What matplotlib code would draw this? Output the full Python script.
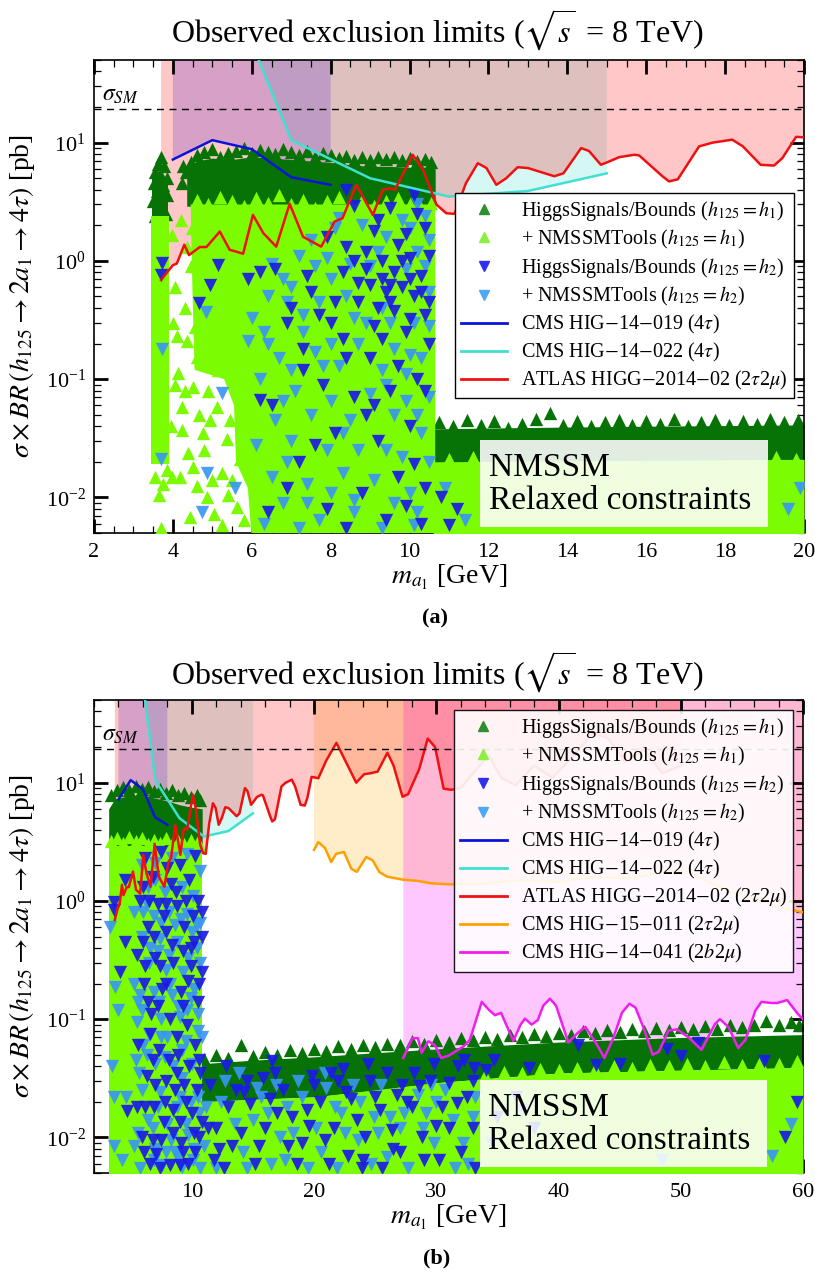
import matplotlib
matplotlib.use('Agg')
import matplotlib.pyplot as plt
from matplotlib.lines import Line2D
from matplotlib.patches import Rectangle, Polygon
from matplotlib.ticker import MultipleLocator, LogLocator, NullFormatter

plt.rcParams['font.family'] = ['Liberation Serif', 'DejaVu Serif']
plt.rcParams['mathtext.fontset'] = 'stix'

# ------------------------------------------------------------------ data
SIGMA_SM = 19.3
YMIN, YMAX = 0.005, 50.0

# ATLAS HIGG-2014-02 (2tau2mu)
atlas_x = [3.7, 4.0, 4.1, 4.29, 4.41, 4.68, 4.85, 5.19, 5.44, 5.6, 5.78, 6.03, 6.29, 6.62, 6.96,
           7.3, 7.76, 8.1, 8.3, 8.65, 9.07, 9.32, 9.5, 9.63, 10.08, 10.34, 10.68, 10.93, 11.14,
           11.43, 11.73, 11.95, 12.2, 12.45, 12.74, 13.0, 13.67, 13.9, 14.35, 14.55, 14.85, 15.0,
           15.32, 15.7, 15.82, 16.41, 16.58, 16.8, 17.34, 17.68, 18.18, 18.45, 18.9, 19.24, 19.45,
           19.8, 20.35, 21.0, 21.83, 22.6, 23.45, 24.1, 24.6, 25.2, 26.0, 26.5, 27.24, 27.7, 28.6,
           29.3, 29.9, 30.6, 31.2, 32.0, 33.0, 34.3, 35.3, 36.5, 38.0, 39.5, 41.0, 42.8, 44.0,
           45.5, 47.0, 48.5, 50.0]
atlas_y = [0.69, 0.92, 0.95, 1.37, 1.12, 1.31, 1.31, 1.77, 1.24, 1.2, 1.15, 2.45, 1.72, 1.32, 3.04,
           1.6, 1.32, 2.15, 2.3, 4.4, 2.45, 4.0, 4.1, 4.0, 7.9, 5.9, 3.0, 2.53, 2.5,
           4.55, 6.7, 6.1, 4.4, 5.0, 6.2, 6.1, 5.2, 5.5, 9.0, 8.5, 6.5, 6.8,
           7.55, 7.9, 7.8, 5.2, 4.7, 4.9, 9.3, 10.0, 10.6, 9.3, 6.5, 6.4, 7.4,
           11.2, 10.9, 15.4, 21.7, 15.0, 10.0, 11.8, 12.0, 12.4, 17.9, 14.0, 7.6, 8.0, 13.0,
           23.6, 20.0, 8.9, 8.7, 9.0, 12.0, 17.0, 11.0, 9.5, 14.0, 11.0, 16.0, 26.0, 24.0,
           15.0, 19.0, 12.0, 14.0]

# CMS HIG-14-019 (4tau)
cms019_x = [4.0, 5.0, 6.0, 7.0, 8.0]
cms019_y = [7.2, 10.5, 8.8, 5.1, 4.4]

# CMS HIG-14-022 (4tau)
cms022_x = [6.0, 7.0, 9.0, 11.0, 13.0, 15.0]
cms022_y = [70.0, 10.5, 5.0, 3.5, 3.9, 5.5]

# CMS HIG-15-011 (2tau2mu)
cms15011_x = [20.0, 20.35, 20.9, 21.4, 21.8, 22.45, 23.05, 23.5, 24.27, 24.8, 25.35, 26.0, 27.3,
              28.4, 29.55, 31.0, 34.0, 37.0, 40.0, 43.0, 46.0, 49.0, 50.6, 53.9, 57.9, 60.0]
cms15011_y = [2.7, 3.14, 2.8, 2.13, 2.5, 2.59, 1.87, 1.76, 2.35, 2.2, 1.75, 1.6, 1.51,
              1.48, 1.41, 1.38, 1.4, 1.5, 1.45, 1.6, 1.55, 1.8, 1.75, 1.22, 0.89, 0.8]

# CMS HIG-14-041 (2b2mu)
cms14041_x = [27.3, 28.05, 28.5, 28.8, 29.35, 29.9, 30.4, 31.0, 32.25, 32.75, 33.72, 34.3, 34.8,
              35.3, 36.3, 36.9, 37.25, 37.8, 38.3, 38.75, 39.3, 39.8, 40.8, 41.6, 42.2, 43.1,
              43.75, 44.45, 45.2, 45.8, 46.3, 47.0, 47.7, 48.2, 49.0, 49.7, 50.65, 51.7, 52.8,
              53.2, 53.9, 54.7, 55.3, 56.1, 56.6, 57.4, 57.9, 58.7, 59.6, 60.0]
cms14041_y = [0.047, 0.069, 0.069, 0.052, 0.065, 0.060, 0.047, 0.049, 0.059, 0.067, 0.140, 0.120,
              0.108, 0.113, 0.0655, 0.09, 0.101, 0.09, 0.098, 0.13, 0.149, 0.13, 0.0635, 0.077,
              0.086, 0.062, 0.047, 0.068, 0.114, 0.135, 0.125, 0.082, 0.050, 0.053, 0.080, 0.082,
              0.070, 0.055, 0.091, 0.100, 0.086, 0.057, 0.067, 0.118, 0.140, 0.137, 0.137, 0.145,
              0.11, 0.10]

# ---------------- scan points, panel (a) --------------------------------
a_h1hs_mass_x = [4.35, 4.6, 5.0, 5.5, 6.0, 6.5, 7.0, 7.5, 8.0, 8.5, 9.0, 9.5, 10.0, 10.4, 10.65]
a_h1hs_mass_top = [6.0, 7.0, 7.4, 7.2, 7.6, 7.4, 7.2, 7.0, 6.8, 6.5, 6.3, 6.3, 6.2, 6.2, 6.0]
a_h1hs_mass_bot = [2.9] * 15
a_h1hs_col_x = [3.47, 3.88]
a_h1hs_col_top = [5.0, 5.0]
a_h1hs_col_bot = [2.2, 2.2]
a_h1hs_band_x = [10.62, 13.0, 16.0, 20.0]
a_h1hs_band_top = [0.038, 0.039, 0.040, 0.041]
a_h1hs_band_bot = [0.019, 0.019, 0.020, 0.020]
a_h1hs_pts = [(3.70, 7.6), (3.62, 6.6), (3.78, 6.3), (3.55, 5.6), (3.68, 5.4), (3.84, 5.0),
              (3.52, 4.6), (3.75, 4.4), (3.60, 3.9), (3.86, 3.6), (3.50, 3.2), (3.70, 2.9),
              (3.82, 2.5), (3.55, 2.4), (4.26, 6.3), (4.33, 5.6), (4.22, 4.6),
              (4.45, 6.8), (4.6, 7.9), (4.8, 8.4), (5.0, 8.8), (5.2, 7.6), (5.4, 8.1),
              (5.6, 8.5), (5.8, 9.0), (6.0, 8.2), (6.2, 8.7), (6.4, 8.4), (6.6, 8.0),
              (6.8, 8.8), (7.0, 8.3), (7.2, 7.8), (7.4, 8.5), (7.6, 7.6), (7.8, 8.1),
              (8.0, 7.8), (8.2, 7.4), (8.4, 7.7), (8.6, 7.2), (8.8, 7.6), (9.0, 7.1),
              (9.2, 7.5), (9.4, 7.3), (9.6, 7.6), (9.8, 7.1), (10.0, 7.4), (10.2, 7.0),
              (10.4, 7.3), (10.55, 6.8),
              (10.75, 0.043), (11.1, 0.040), (11.45, 0.045), (11.8, 0.041), (12.15, 0.044),
              (12.5, 0.039), (12.85, 0.042), (13.2, 0.046), (13.55, 0.052), (13.9, 0.041),
              (14.25, 0.044), (14.6, 0.040), (14.95, 0.043), (15.3, 0.045), (15.65, 0.041),
              (16.0, 0.044), (16.35, 0.042), (16.7, 0.046), (17.05, 0.040), (17.4, 0.043),
              (17.75, 0.045), (18.1, 0.041), (18.45, 0.044), (18.8, 0.042), (19.15, 0.046),
              (19.5, 0.043), (19.85, 0.045)]

a_h1nt_col_x = [3.45, 3.9]
a_h1nt_col_top = [2.4, 2.4]
a_h1nt_col_bot = [0.019, 0.019]
a_h1nt_main_poly = [(4.45, 3.0), (10.65, 3.0), (10.65, 0.0045), (6.0, 0.0045), (5.9, 0.012),
                    (5.6, 0.02), (5.55, 0.06), (5.3, 0.1), (4.55, 0.12), (4.5, 0.5)]
a_h1nt_band_x = [10.6, 20.0]
a_h1nt_band_top = [0.020, 0.021]
a_h1nt_pts = [(3.97, 1.66), (4.48, 1.9), (4.2, 2.2), (4.35, 1.3), (4.05, 0.6), (4.10, 0.23),
              (4.14, 0.112), (4.22, 0.058), (4.24, 0.0375), (4.18, 0.015), (3.98, 0.015),
              (4.39, 0.0236), (4.77, 0.035), (4.86, 0.0101), (4.52, 0.086), (4.6, 0.155),
              (4.94, 0.178), (5.14, 0.12), (4.57, 0.277), (5.11, 0.058), (5.36, 0.031),
              (5.70, 0.021), (5.24, 0.016), (5.03, 0.0073), (5.62, 0.0083), (4.43, 0.0068),
              (3.71, 0.0055), (4.95, 0.045), (5.45, 0.045), (4.65, 0.05), (4.3, 0.08),
              (4.0, 0.3), (4.3, 0.4), (4.8, 0.025), (5.0, 0.014), (5.4, 0.0105), (5.8, 0.0065),
              (5.25, 0.0058), (4.62, 0.0125), (5.5, 0.014), (4.9, 0.08), (4.45, 0.9),
              (4.5, 0.018), (3.95, 0.04), (4.05, 0.09), (3.55, 0.015), (3.75, 0.013),
              (3.65, 0.0105), (3.85, 0.017), (4.35, 0.21),
              (4.6, 3.3), (4.9, 3.0), (5.2, 3.5), (5.5, 3.2), (5.8, 2.9), (6.1, 3.4),
              (6.4, 3.1), (6.7, 3.6), (7.0, 3.0), (7.3, 3.3), (7.6, 2.8), (7.9, 3.2),
              (8.2, 3.5), (8.5, 3.0), (8.8, 3.3), (9.1, 2.9), (9.4, 3.2), (9.7, 3.4),
              (10.0, 3.0), (10.3, 2.8), (10.55, 3.1),
              (11.0, 0.021), (11.6, 0.022), (12.2, 0.021), (19.3, 0.022), (19.8, 0.021)]

a_h2hs_pts = [(8.6, 2.9), (9.5, 2.8), (10.2, 2.5), (10.4, 1.9), (9.1, 1.8), (7.9, 1.6),
              (8.4, 1.3), (9.7, 1.35), (10.0, 1.05), (9.3, 1.0), (8.9, 0.85), (9.6, 0.8),
              (10.3, 0.75), (9.0, 0.62), (9.4, 0.55), (9.8, 0.6), (10.1, 0.5), (8.7, 0.45),
              (9.2, 0.4), (9.6, 0.38), (10.4, 0.35), (7.0, 0.4), (7.5, 0.55), (6.6, 0.85),
              (6.9, 0.3), (8.0, 0.3), (8.3, 0.22), (9.9, 0.25), (10.5, 0.2), (9.0, 0.15),
              (7.3, 0.12), (7.8, 0.09), (8.6, 0.07), (9.5, 0.08), (10.2, 0.1), (6.5, 0.06),
              (10.0, 0.04), (9.2, 0.03), (8.1, 0.035), (7.2, 0.02), (10.4, 0.012), (9.7, 0.015),
              (8.8, 0.011), (7.9, 0.008), (9.4, 0.0065), (10.3, 0.006), (6.4, 0.0075),
              (10.8, 0.01), (11.2, 0.008), (11.0, 0.0058), (3.72, 0.96), (3.69, 0.76),
              (5.14, 0.93), (4.95, 0.63), (4.65, 0.44), (6.2, 0.8), (5.9, 0.7), (6.2, 0.067),
              (8.4, 4.0), (10.1, 3.6), (9.5, 0.45), (10.0, 0.7), (9.1, 0.28), (8.9, 1.2),
              (8.3, 0.8), (9.9, 1.7), (10.5, 1.1), (9.3, 0.7), (8.1, 0.45), (7.4, 0.75),
              (9.7, 0.13), (8.9, 0.05), (7.6, 0.028), (10.1, 0.019), (6.9, 0.012),
              (8.4, 0.0055), (9.9, 0.0085), (7.3, 0.18), (10.5, 0.45),
              (9.2, 2.2), (9.8, 1.0), (8.7, 0.65), (10.3, 0.55), (9.5, 0.62), (8.6, 1.0),
              (10.0, 0.32), (9.3, 0.22), (7.7, 0.35), (8.4, 0.15), (10.4, 0.08), (9.1, 0.06)]
a_h2nt_pts = [(8.2, 2.3), (8.8, 2.0), (9.8, 2.2), (10.5, 1.5), (7.2, 1.1), (7.6, 0.9),
              (8.5, 0.95), (9.2, 1.2), (10.2, 1.2), (6.8, 0.7), (7.0, 0.6), (8.0, 0.7),
              (9.9, 0.85), (10.5, 0.55), (6.4, 0.5), (7.7, 0.45), (8.4, 0.5), (8.9, 0.3),
              (9.5, 0.3), (10.1, 0.3), (6.0, 0.33), (5.9, 0.21), (6.3, 0.25), (7.3, 0.25),
              (8.7, 0.2), (9.6, 0.18), (10.3, 0.15), (6.7, 0.15), (7.6, 0.17), (8.2, 0.13),
              (9.3, 0.12), (10.0, 0.16), (6.2, 0.1), (7.1, 0.08), (8.0, 0.065), (9.0, 0.075),
              (9.9, 0.065), (10.5, 0.07), (5.24, 0.077), (6.6, 0.045), (7.5, 0.05), (8.5, 0.045),
              (9.6, 0.05), (10.3, 0.035), (6.1, 0.028), (7.0, 0.03), (7.9, 0.025), (8.7, 0.025),
              (9.8, 0.022), (10.5, 0.02), (5.58, 0.012), (6.5, 0.015), (7.4, 0.013), (8.3, 0.016),
              (9.1, 0.014), (10.0, 0.011), (4.87, 0.016), (4.75, 0.0075), (6.8, 0.009),
              (7.7, 0.0065), (8.6, 0.0075), (9.6, 0.009), (10.1, 0.0058), (3.72, 0.18),
              (3.7, 0.021), (4.85, 0.37), (10.9, 0.012), (11.4, 0.0065), (19.6, 0.008),
              (19.9, 0.012), (10.4, 2.4), (10.2, 3.0),
              (9.0, 0.9), (7.9, 1.05), (10.4, 0.9), (6.9, 0.45), (9.3, 0.4), (8.0, 0.2),
              (10.5, 0.28), (7.0, 0.12), (9.4, 0.09), (8.3, 0.035), (6.8, 0.065), (10.2, 0.05),
              (7.2, 0.0055), (9.3, 0.0055), (8.0, 0.011),
              (7.5, 1.5), (8.1, 1.9), (9.4, 1.6), (10.0, 1.9), (6.5, 0.95), (7.3, 0.35),
              (8.6, 0.33), (6.4, 0.2), (9.9, 0.11), (7.8, 0.13), (6.9, 0.02), (8.6, 0.0095),
              (9.4, 0.025), (10.2, 0.0075), (7.4, 0.009), (6.3, 0.006)]

# ---------------- scan points, panel (b) --------------------------------
b_h1hs_mass_x = [3.2, 3.6, 4.0, 5.0, 6.0, 7.0, 8.0, 9.0, 10.0, 10.85]
b_h1hs_mass_top = [6.0, 7.0, 7.4, 7.8, 7.8, 7.4, 7.0, 6.5, 6.2, 6.0]
b_h1hs_mass_bot = [2.8] * 10
b_h1hs_band_x = [10.8, 15, 20, 25, 30, 35, 40, 45, 50, 55, 60]
b_h1hs_band_top = [0.042, 0.045, 0.048, 0.052, 0.056, 0.060, 0.064, 0.067, 0.070, 0.072, 0.074]
b_h1hs_band_bot = [0.020, 0.021, 0.022, 0.025, 0.029, 0.032, 0.035, 0.036, 0.037, 0.038, 0.039]
b_h1hs_pts = [(3.4, 7.8), (3.9, 8.6), (4.4, 9.2), (4.9, 8.7), (5.4, 9.3), (5.9, 8.8),
              (6.4, 9.2), (6.9, 8.5), (7.4, 8.9), (7.9, 8.2), (8.4, 8.6), (8.9, 7.8),
              (9.4, 8.1), (9.9, 7.5), (10.4, 7.8), (10.7, 7.2),
              (11.0, 0.046), (12.0, 0.050), (13.0, 0.047), (14.0, 0.060), (15.0, 0.049),
              (16.0, 0.053), (17.0, 0.050), (18.0, 0.055), (19.0, 0.052), (20.0, 0.056),
              (21.0, 0.054), (22.0, 0.059), (23.0, 0.056), (24.0, 0.061), (25.0, 0.058),
              (26.0, 0.062), (27.0, 0.060), (28.0, 0.065), (29.0, 0.062), (30.0, 0.067),
              (31.0, 0.064), (32.0, 0.069), (33.0, 0.066), (34.0, 0.070), (35.0, 0.068),
              (36.0, 0.073), (37.0, 0.070), (38.0, 0.075), (39.0, 0.072), (40.0, 0.077),
              (41.0, 0.074), (42.0, 0.080), (43.0, 0.076), (44.0, 0.081), (45.0, 0.078),
              (46.0, 0.083), (47.0, 0.079), (48.0, 0.084), (49.0, 0.081), (50.0, 0.086),
              (51.0, 0.082), (52.0, 0.087), (53.0, 0.083), (54.0, 0.089), (55.0, 0.085),
              (56.0, 0.090), (57.0, 0.096), (58.0, 0.089), (59.0, 0.094), (59.7, 0.090)]

b_h1nt_dense_x = [3.2, 10.85]
b_h1nt_dense_top = [2.9, 2.9]
b_h1nt_band_x = [10.8, 20, 30, 40, 50, 60]
b_h1nt_band_top = [0.020, 0.022, 0.029, 0.035, 0.037, 0.039]
b_h1nt_pts = [(3.4, 3.2), (3.9, 3.4), (4.4, 3.1), (4.9, 3.5), (5.4, 3.2), (5.9, 3.4),
              (6.4, 3.0), (6.9, 3.3), (7.4, 3.1), (7.9, 3.4), (8.4, 3.0), (8.9, 3.2),
              (9.4, 3.0), (9.9, 3.3), (10.4, 3.1), (10.7, 2.9),
              (34.0, 0.034), (35.5, 0.036), (37.0, 0.035), (38.5, 0.038), (40.0, 0.037),
              (41.5, 0.039), (43.0, 0.038), (44.5, 0.040), (46.0, 0.039), (47.5, 0.041),
              (49.0, 0.040), (50.5, 0.042), (52.0, 0.040), (53.5, 0.043), (55.0, 0.041),
              (56.5, 0.043), (58.0, 0.042), (59.5, 0.044)]

b_h2hs_pts = [(6.2, 2.3), (7.5, 2.6), (9.0, 2.0), (10.3, 2.4), (6.8, 1.6), (8.3, 1.4),
              (9.8, 1.5), (5.8, 1.0), (7.2, 0.95), (8.8, 0.9), (10.5, 1.0), (6.4, 0.6),
              (7.9, 0.55), (9.4, 0.6), (10.2, 0.45), (5.5, 0.35), (7.0, 0.33), (8.5, 0.3),
              (9.9, 0.28), (6.1, 0.2), (7.6, 0.18), (9.1, 0.17), (10.6, 0.2), (6.7, 0.11),
              (8.2, 0.1), (9.6, 0.09), (5.6, 0.06), (7.3, 0.055), (8.9, 0.05), (10.3, 0.06),
              (6.3, 0.033), (7.9, 0.03), (9.4, 0.028), (10.7, 0.035), (6.9, 0.018),
              (8.5, 0.017), (10.0, 0.016), (5.9, 0.01), (7.5, 0.0095), (9.1, 0.009),
              (10.6, 0.01), (6.6, 0.006), (8.2, 0.0058), (9.7, 0.006), (3.6, 0.98), (3.6, 0.83),
              (4.57, 0.45), (4.7, 0.0167), (4.5, 1.5), (4.1, 0.25),
              (6.0, 1.3), (7.7, 0.75), (9.3, 0.38), (10.5, 0.14), (6.8, 0.045), (8.6, 0.025),
              (10.2, 0.011), (7.1, 0.0072), (9.0, 0.0135), (5.5, 0.018), (8.0, 1.9),
              (9.7, 0.21), (6.4, 0.14), (10.8, 0.5), (7.4, 0.28),
              (6.1, 0.0075), (7.7, 0.0135), (9.3, 0.0075), (10.8, 0.0135), (6.0, 0.45),
              (8.7, 1.2), (10.1, 0.75), (7.2, 0.13), (8.8, 0.07), (10.6, 0.045),
              (6.5, 1.0), (7.9, 0.95), (9.5, 1.0), (10.8, 0.8), (6.9, 0.5), (8.4, 0.42),
              (9.9, 0.4), (6.2, 0.28), (7.9, 0.2), (9.3, 0.13), (10.8, 0.25), (6.6, 0.075),
              (8.1, 0.045), (9.8, 0.04), (7.0, 0.028), (8.8, 0.035), (10.4, 0.025),
              (6.2, 0.018), (7.8, 0.02), (9.5, 0.02), (6.8, 0.0095), (8.5, 0.011),
              (10.3, 0.0075), (7.4, 0.0055), (9.0, 0.0058),
              (11.5, 0.028), (13.0, 0.018), (14.5, 0.03), (16.0, 0.012), (17.5, 0.025),
              (19.0, 0.009), (20.5, 0.02), (22.0, 0.03), (23.5, 0.014), (25.0, 0.022),
              (26.5, 0.008), (28.0, 0.018), (29.5, 0.03), (31.0, 0.012), (32.5, 0.022),
              (12.2, 0.008), (15.2, 0.006), (18.2, 0.015), (21.2, 0.006), (24.2, 0.01),
              (27.2, 0.028), (30.2, 0.0065), (12.0, 0.012), (16.8, 0.035), (19.8, 0.033),
              (22.8, 0.007), (26.0, 0.035), (28.8, 0.01), (31.8, 0.04), (14.0, 0.011),
              (33.0, 0.03), (11.8, 0.0065), (13.6, 0.025), (15.5, 0.0085), (17.0, 0.016),
              (18.6, 0.006), (20.0, 0.028), (21.6, 0.012), (23.0, 0.021), (24.6, 0.03),
              (26.4, 0.0115), (27.6, 0.02), (29.0, 0.0065), (30.5, 0.018), (32.0, 0.0075),
              (33.0, 0.012), (12.8, 0.04), (15.8, 0.032), (22.4, 0.038), (25.6, 0.0055),
              (28.2, 0.035), (31.0, 0.029), (14.8, 0.019), (19.4, 0.017), (24.0, 0.0065),
              (26.8, 0.023), (32.3, 0.045), (33.1, 0.039), (34.1, 0.037), (34.7, 0.045),
              (37.6, 0.039), (41.6, 0.06), (43.1, 0.041), (45.0, 0.042), (48.9, 0.056),
              (50.0, 0.049), (51.4, 0.063), (56.8, 0.044), (58.5, 0.01), (59.5, 0.02),
              (35.0, 0.015), (36.5, 0.022), (38.0, 0.012),
              (11.3, 0.012), (12.6, 0.0055), (13.3, 0.0085), (14.3, 0.024), (16.4, 0.021),
              (17.9, 0.0085), (19.6, 0.0125), (20.9, 0.0095), (22.6, 0.024), (23.9, 0.0055),
              (25.4, 0.017), (27.0, 0.0075), (28.6, 0.027), (30.0, 0.0125), (31.7, 0.0195),
              (33.2, 0.0055), (16.6, 0.044), (21.4, 0.035), (24.4, 0.042), (29.8, 0.042)]
b_h2nt_pts = [(5.9, 2.0), (7.0, 2.1), (8.4, 2.3), (9.6, 2.5), (10.7, 1.8), (6.4, 1.3),
              (7.8, 1.2), (9.2, 1.3), (10.1, 1.1), (5.3, 0.8), (6.9, 0.75), (8.1, 0.8),
              (9.6, 0.78), (10.7, 0.65), (5.9, 0.5), (7.4, 0.48), (8.8, 0.45), (10.4, 0.4),
              (6.5, 0.3), (7.9, 0.26), (9.3, 0.25), (10.7, 0.3), (5.3, 0.2), (6.9, 0.17),
              (8.4, 0.16), (9.9, 0.15), (5.9, 0.12), (7.5, 0.1), (9.0, 0.105), (10.5, 0.11),
              (6.5, 0.075), (8.0, 0.07), (9.5, 0.065), (10.8, 0.07), (5.4, 0.045), (7.0, 0.042),
              (8.5, 0.04), (10.0, 0.042), (5.9, 0.025), (7.4, 0.024), (9.0, 0.022), (10.5, 0.022),
              (6.4, 0.014), (8.0, 0.013), (9.5, 0.013), (5.3, 0.0085), (7.0, 0.008), (8.6, 0.0075),
              (10.2, 0.008), (5.8, 0.0055), (7.6, 0.0058), (9.2, 0.0056), (10.7, 0.0055),
              (3.5, 0.04), (4.0, 0.12), (4.6, 0.022), (3.3, 0.6), (4.3, 0.0065), (3.6, 0.0085),
              (3.7, 0.187), (3.6, 0.0218), (5.5, 0.094), (6.3, 0.95), (8.6, 0.62), (10.0, 0.55),
              (7.2, 0.38), (8.2, 0.2), (9.6, 0.12), (6.0, 0.06), (7.8, 0.048), (9.2, 0.032),
              (6.8, 0.012), (10.1, 0.0065), (8.3, 0.0095), (5.6, 0.14), (7.0, 1.5), (9.9, 0.02),
              (6.0, 0.8), (7.5, 0.65), (9.1, 0.7), (10.4, 0.62), (6.6, 0.4), (8.1, 0.35),
              (9.7, 0.33), (5.8, 0.16), (7.3, 0.14), (8.9, 0.13), (10.2, 0.18), (6.3, 0.05),
              (7.5, 0.07), (9.2, 0.055), (10.5, 0.08), (5.7, 0.035), (7.2, 0.018),
              (8.8, 0.018), (10.6, 0.016), (5.6, 0.011), (7.9, 0.0075), (9.7, 0.0105),
              (6.9, 0.0065), (8.9, 0.0068),
              (11.2, 0.018), (12.7, 0.03), (14.2, 0.0075), (15.7, 0.022), (17.2, 0.01),
              (18.7, 0.03), (20.2, 0.012), (21.7, 0.018), (23.2, 0.028), (24.7, 0.006),
              (26.2, 0.015), (27.7, 0.0055), (29.2, 0.016), (30.7, 0.025), (32.2, 0.009),
              (13.5, 0.013), (16.5, 0.006), (19.5, 0.0055), (22.5, 0.011), (25.5, 0.028),
              (28.5, 0.023), (31.5, 0.0055), (12.0, 0.0055), (17.8, 0.018), (23.8, 0.02),
              (29.8, 0.009), (15.0, 0.014), (21.0, 0.026), (27.0, 0.012), (33.0, 0.015),
              (57.5, 0.007), (59.0, 0.013), (11.0, 0.0085), (12.4, 0.02), (13.9, 0.035),
              (15.3, 0.026), (16.2, 0.016), (17.6, 0.0065), (19.0, 0.022), (20.6, 0.0075),
              (21.9, 0.0055), (23.6, 0.0095), (24.9, 0.015), (26.0, 0.0068), (27.4, 0.016),
              (28.9, 0.012), (30.0, 0.02), (31.4, 0.014), (32.6, 0.006), (14.5, 0.0055),
              (18.3, 0.011), (22.2, 0.016), (25.2, 0.011), (29.6, 0.0275), (33.2, 0.022),
              (20.9, 0.035), (16.9, 0.0275), (48.5, 0.0065), (34.5, 0.009), (37.0, 0.017)]

# ------------------------------------------------------------------ style
C_H1HS = '#077307'
C_H1NT = '#7cfc00'
C_H2HS = '#1a1ae6'
C_H2NT = '#3a96f2'
C_ATLAS = '#f01010'
C_019 = '#0a14d8'
C_022 = '#40e0d0'
C_15011 = '#ffa000'
C_14041 = '#f01ef0'
TRI = 92


def tris(ax, pts, marker, color, z, alpha=1.0):
    ax.scatter([p[0] for p in pts], [p[1] for p in pts], marker=marker, s=TRI, c=color,
               linewidths=0, alpha=alpha, zorder=z)


def band(ax, x, lo, hi, color, z):
    ax.fill_between(x, lo, hi, color=color, linewidth=0, zorder=z)


def style_axes(ax, xmax, major, minor, labels):
    ax.set_yscale('log')
    ax.set_ylim(YMIN, YMAX)
    ax.set_xlim(2, xmax)
    ax.xaxis.set_major_locator(MultipleLocator(major))
    ax.xaxis.set_minor_locator(MultipleLocator(minor))
    ax.set_xticks(labels)
    ax.yaxis.set_major_locator(LogLocator(base=10, numticks=10))
    ax.yaxis.set_minor_locator(LogLocator(base=10, subs=range(2, 10), numticks=20))
    ax.yaxis.set_minor_formatter(NullFormatter())
    ax.tick_params(which='both', direction='in', top=True, right=True)
    ax.tick_params(which='major', length=10, width=2.0, labelsize=16)
    ax.tick_params(which='minor', length=5, width=0.9)
    ax.tick_params(axis='x', pad=7)
    ax.tick_params(axis='y', pad=6)
    for s in ax.spines.values():
        s.set_linewidth(1.2)
    ax.set_xlabel(r'$m_{a_1}$ [GeV]', fontsize=20)
    ax.xaxis.set_label_coords(0.5, -0.064)
    ax.set_ylabel(r'$\sigma \times BR\,(h_{125} \rightarrow 2a_1 \rightarrow 4\tau)$ [pb]',
                  fontsize=20)
    ax.yaxis.set_label_coords(-0.08, 0.5)


def regions(ax, with_b):
    ax.fill(cms022_x + [cms022_x[-1], cms022_x[0]], cms022_y + [1e4, 1e4],
            color=C_022, alpha=0.21, lw=0, zorder=1)
    if with_b:
        ax.fill(cms15011_x + [cms15011_x[-1], cms15011_x[0]], cms15011_y + [1e4, 1e4],
                color='#ffa600', alpha=0.21, lw=0, zorder=1)
        ax.fill(cms14041_x + [cms14041_x[-1], cms14041_x[0]], cms14041_y + [1e4, 1e4],
                color='#ff00ff', alpha=0.22, lw=0, zorder=1)
    ax.fill(atlas_x + [atlas_x[-1], atlas_x[0]], atlas_y + [1e4, 1e4],
            color='#ff0000', alpha=0.22, lw=0, zorder=1)
    ax.fill(cms019_x + [cms019_x[-1], cms019_x[0]], cms019_y + [1e4, 1e4],
            color=(0.48, 0.28, 0.78), alpha=0.3, lw=0, zorder=1)


def curves(ax, with_b):
    ax.plot(cms019_x, cms019_y, color=C_019, lw=1.8, zorder=6)
    ax.plot(cms022_x, cms022_y, color=C_022, lw=1.8, zorder=6)
    ax.plot(atlas_x, atlas_y, color=C_ATLAS, lw=1.8, zorder=6)
    if with_b:
        ax.plot(cms15011_x, cms15011_y, color=C_15011, lw=1.8, zorder=6)
        ax.plot(cms14041_x, cms14041_y, color=C_14041, lw=1.8, zorder=6)
    ax.axhline(SIGMA_SM, color='k', lw=1.0, ls=(0, (5, 4)), zorder=6)
    ax.text(0.011, 0.913, r'$\sigma_{SM}$', transform=ax.transAxes, fontsize=17,
            ha='left', va='baseline', zorder=7)


def legend(ax, with_b, alpha):
    h = [Line2D([], [], ls='none', marker='^', ms=7, color='#2d8f2d'),
         Line2D([], [], ls='none', marker='^', ms=7, color='#8cf040'),
         Line2D([], [], ls='none', marker='v', ms=7, color='#3030f0'),
         Line2D([], [], ls='none', marker='v', ms=7, color='#50a8f6'),
         Line2D([], [], color=C_019, lw=2),
         Line2D([], [], color=C_022, lw=2),
         Line2D([], [], color=C_ATLAS, lw=2)]
    lab = [r'HiggsSignals/Bounds ($h_{125} = h_1$)',
           r'+ NMSSMTools ($h_{125} = h_1$)',
           r'HiggsSignals/Bounds ($h_{125} = h_2$)',
           r'+ NMSSMTools ($h_{125} = h_2$)',
           r'CMS HIG$-$14$-$019 (4$\tau$)',
           r'CMS HIG$-$14$-$022 (4$\tau$)',
           r'ATLAS HIGG$-$2014$-$02 (2$\tau$2$\mu$)']
    if with_b:
        h += [Line2D([], [], color=C_15011, lw=2), Line2D([], [], color=C_14041, lw=2)]
        lab += [r'CMS HIG$-$15$-$011 (2$\tau$2$\mu$)', r'CMS HIG$-$14$-$041 (2$b$2$\mu$)']
    top = 0.979 if with_b else 0.719
    lg = ax.legend(h, lab, loc='upper left', bbox_to_anchor=(0.508, top), borderaxespad=0,
                   fontsize=14.5, frameon=True, fancybox=False, framealpha=alpha,
                   edgecolor='black', handlelength=2.3, handletextpad=0.7,
                   labelspacing=0.25, borderpad=0.3)
    lg.get_frame().set_linewidth(1.0)
    lg.set_zorder(10)


def tag(ax):
    ax.add_patch(Rectangle((0.544, 0.012), 0.405, 0.185, transform=ax.transAxes,
                           facecolor='white', alpha=0.88, edgecolor='none', zorder=8))
    ax.text(0.556, 0.12, 'NMSSM', transform=ax.transAxes, fontsize=24, va='baseline',
            ha='left', zorder=9)
    ax.text(0.556, 0.05, 'Relaxed constraints', transform=ax.transAxes, fontsize=24,
            va='baseline', ha='left', zorder=9)


fig = plt.figure(figsize=(8.15, 12.75), dpi=100)
ax_a = fig.add_axes([94 / 815, 1 - 533 / 1275, 710 / 815, 473 / 1275])
ax_b = fig.add_axes([94 / 815, 1 - 1173 / 1275, 709 / 815, 473 / 1275])

# ---- panel (a)
ax = ax_a
regions(ax, False)
band(ax, a_h1hs_mass_x, a_h1hs_mass_bot, a_h1hs_mass_top, C_H1HS, 2)
band(ax, a_h1hs_col_x, a_h1hs_col_bot, a_h1hs_col_top, C_H1HS, 2)
band(ax, a_h1hs_band_x, a_h1hs_band_bot, a_h1hs_band_top, C_H1HS, 2)
tris(ax, a_h1hs_pts, '^', C_H1HS, 2)
band(ax, a_h1nt_col_x, a_h1nt_col_bot, a_h1nt_col_top, C_H1NT, 3)
ax.add_patch(Polygon(a_h1nt_main_poly, closed=True, facecolor=C_H1NT, edgecolor='none', zorder=3))
band(ax, a_h1nt_band_x, [0.004, 0.004], a_h1nt_band_top, C_H1NT, 3)
tris(ax, a_h1nt_pts, '^', C_H1NT, 3)
tris(ax, a_h2nt_pts, 'v', C_H2NT, 4, 0.92)
tris(ax, a_h2hs_pts, 'v', C_H2HS, 4, 0.92)
curves(ax, False)
style_axes(ax, 20, 2, 0.5, [2, 4, 6, 8, 10, 12, 14, 16, 18, 20])
legend(ax, False, 1.0)
tag(ax)

# ---- panel (b)
ax = ax_b
regions(ax, True)
band(ax, b_h1hs_mass_x, b_h1hs_mass_bot, b_h1hs_mass_top, C_H1HS, 2)
band(ax, b_h1hs_band_x, b_h1hs_band_bot, b_h1hs_band_top, C_H1HS, 2)
tris(ax, b_h1hs_pts, '^', C_H1HS, 2)
band(ax, b_h1nt_dense_x, [0.004, 0.004], b_h1nt_dense_top, C_H1NT, 3)
band(ax, b_h1nt_band_x, [0.004] * 6, b_h1nt_band_top, C_H1NT, 3)
tris(ax, b_h1nt_pts, '^', C_H1NT, 3)
tris(ax, b_h2nt_pts, 'v', C_H2NT, 4, 0.92)
tris(ax, b_h2hs_pts, 'v', C_H2HS, 4, 0.92)
curves(ax, True)
style_axes(ax, 60, 10, 2, [10, 20, 30, 40, 50, 60])
legend(ax, True, 0.9)
tag(ax)

# titles and panel tags
for yy in (1 - 30 / 1275, 1 - 672 / 1275):
    fig.text(0.537, yy, r'Observed exclusion limits ($\sqrt{s}\,$ = 8 TeV)', fontsize=23,
             ha='center', va='center')
fig.text(0.534, 1 - 618 / 1275, '(a)', fontsize=16, fontweight='bold', ha='center', va='center')
fig.text(0.536, 1 - 1258 / 1275, '(b)', fontsize=16, fontweight='bold', ha='center', va='center')

fig.savefig('out.png', dpi=100)
